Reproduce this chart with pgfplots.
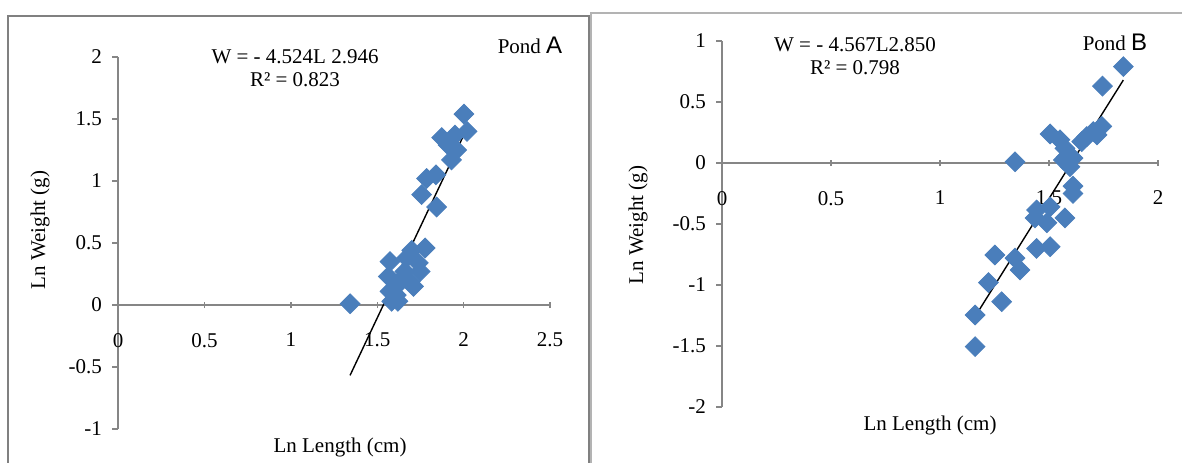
\documentclass[border=0pt]{standalone}
\usepackage{fontspec}
\setmainfont{Liberation Serif}
\newfontfamily\sansA{Liberation Sans}
\usepackage{pgfplots}
\pgfplotsset{compat=1.18}
\definecolor{ptblue}{RGB}{74,126,187}
\definecolor{axgray}{RGB}{134,134,134}
\definecolor{framegray}{RGB}{128,128,128}

\pgfplotsset{
  pondaxis/.style={
    axis lines=middle,
    axis line style={-, draw=axgray, line width=0.7pt},
    enlargelimits=false,
    clip=false,
    hide obscured x ticks=false,
    hide obscured y ticks=false,
    major tick length=3pt,
    tick style={draw=axgray, line width=0.7pt},
    xtick align=center,
    ytick align=outside,
    tick label style={font=\fontsize{10.5}{12}\selectfont},
    /pgf/number format/assume math mode=true,
    xticklabel style={anchor=north, yshift=-9pt},
    yticklabel style={anchor=east, xshift=-1.5pt},
  },
  pts/.style={only marks, mark=square*, mark size=3.5pt,
    mark options={rotate=45, fill=ptblue, draw=ptblue}},
  fit/.style={black, line width=0.7pt, no marks},
}

\begin{document}
\begin{tikzpicture}
\path[use as bounding box] (0,0) rectangle (591pt,231pt);
\clip (0,0) rectangle (591pt,231pt);

% panel frames
\draw[framegray, line width=1.2pt] (4pt,-5pt) -- (4pt,223pt) -- (294.5pt,223pt) -- (294.5pt,-5pt);
\draw[framegray!60, line width=1pt] (295.5pt,-5pt) -- (295.5pt,224.5pt) -- (600pt,224.5pt);

% Pond A
\begin{axis}[pondaxis,
  anchor=origin, at={(59pt,78.5pt)},
  x=86.4pt, y=62pt,
  xmin=0, xmax=2.5, ymin=-1, ymax=2,
  xtick={0,0.5,1,1.5,2,2.5},
  ytick={-1,-0.5,0,0.5,1,1.5,2},
]
\addplot[pts] coordinates {
(1.343,0.01) (2.002,1.54) (2.02,1.40) (1.873,1.35) (1.95,1.37)
(1.91,1.29) (1.96,1.25) (1.93,1.17) (1.786,1.02) (1.84,1.05)
(1.757,0.89) (1.844,0.79) (1.777,0.46) (1.70,0.44) (1.574,0.35)
(1.738,0.34) (1.67,0.38) (1.748,0.27) (1.66,0.27) (1.564,0.23)
(1.69,0.19) (1.63,0.18) (1.71,0.15) (1.574,0.11) (1.61,0.08)
(1.584,0.03) (1.62,0.03) (1.65,0.22) (1.60,0.14)
};
\addplot[fit] coordinates {(1.343,-0.567) (2.01,1.397)};
\end{axis}

% Pond B
\begin{axis}[pondaxis,
  anchor=origin, at={(361pt,149.5pt)},
  x=109pt, y=61pt,
  xmin=0, xmax=2, ymin=-2, ymax=1,
  xtick={0,0.5,1,1.5,2},
  ytick={-2,-1.5,-1,-0.5,0,0.5,1},
]
\addplot[pts] coordinates {
(1.841,0.79) (1.745,0.63) (1.505,0.238) (1.55,0.19) (1.573,0.12)
(1.742,0.30) (1.703,0.257) (1.673,0.216) (1.65,0.175) (1.72,0.23)
(1.58,0.05) (1.61,0.04) (1.566,0.025) (1.596,-0.03) (1.344,0.01)
(1.61,-0.19) (1.61,-0.25) (1.443,-0.385) (1.505,-0.36) (1.436,-0.45)
(1.49,-0.49) (1.573,-0.45) (1.443,-0.70) (1.505,-0.686) (1.252,-0.754)
(1.344,-0.78) (1.367,-0.877) (1.222,-0.98) (1.283,-1.137) (1.161,-1.246)
(1.161,-1.505)
};
\addplot[fit] coordinates {(1.161,-1.258) (1.841,0.680)};
\end{axis}

% texts
\begin{scope}[every node/.style={font=\fontsize{10.5}{12}\selectfont, inner sep=0pt}]
\node at (147.5pt,202.5pt) {W = - 4.524L 2.946};
\node at (147.5pt,191pt) {R² = 0.823};
\node at (265pt,208.5pt) {Pond {\sansA\fontsize{12}{12}\selectfont A}};
\node at (427.5pt,208.5pt) {W = - 4.567L2.850};
\node at (427.5pt,197pt) {R² = 0.798};
\node at (557.5pt,210pt) {Pond {\sansA\fontsize{12}{12}\selectfont B}};
\node[rotate=90] at (20pt,116pt) {Ln Weight (g)};
\node[rotate=90] at (319pt,118.5pt) {Ln Weight (g)};
\node at (170pt,7.5pt) {Ln Length (cm)};
\node at (465pt,18.5pt) {Ln Length (cm)};
\end{scope}
\end{tikzpicture}
\end{document}
